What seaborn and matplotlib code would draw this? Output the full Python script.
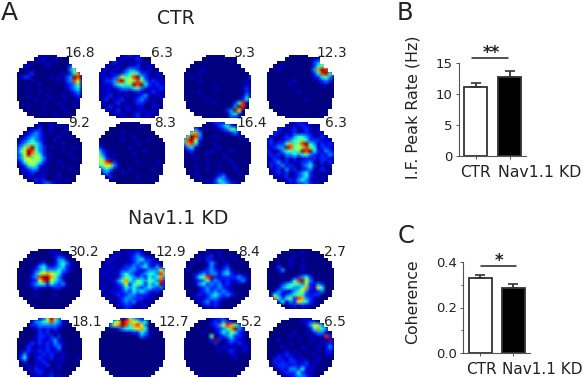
import numpy as np
import pandas as pd
import matplotlib
matplotlib.use("Agg")
import matplotlib.pyplot as plt
from matplotlib.colors import PowerNorm
from matplotlib.patches import Polygon
import seaborn as sns

# Rate maps: 0 = dark blue ... 9 = dark red, "." = outside arena
ctr_1 = ["......001100......", "....0011001000....", "..00100101000002..", ".0110000100000240.",
         ".0000000000000351.", "000120000000102470", "012200000101023980", "000010000001023860",
         "000000100000012350", "000100000000012340", "000000100000001230", "000100001000100120",
         "000001000100010011", ".0000001000100010.", ".0010000000010000.", "..00000100000100..",
         "...0000000100000..", ".....0000000000..."]
ctr_2 = ["......012110......", "....1011012100....", "..01201010110010..", ".1010100112011000.",
         ".1101102332101000.", "110110234542210110", "011123645894210100", "012238956585312110",
         "011134545989421211", "101112333453211121", "011101110121012110", "101201011012310101",
         "012011200123201010", ".1001201012210100.", ".0120101101100110.", "..10120110111010..",
         "...1011001201101..", ".....0110120110..."]
ctr_3 = ["......000000......", "....0000000000....", "..00000000000000..", ".0000000000000000.",
         ".0000100000000000.", "000010000000000001", "001000000000000002", "000010000000000010",
         "000000000000000010", "000000001000000120", "000010000000000020", "000000000000000130",
         "000000100000000240", ".0000000100002480.", ".0000000000003980.", "..00000000023960..",
         "...0000000003420..", ".....0000000210..."]
ctr_4 = ["......000000......", "....0000000011....", "..00000000002341..", ".0001000000024562.",
         ".0010000000037982.", "000000000000248952", "000000000000124531", "000000010000012320",
         "000000100000001100", "000000000000000000", "000000001000000000", "000000000000000000",
         "000000000010000000", ".0000000000000000.", ".0000000000000000.", "..00000000000000..",
         "...0000000000000..", ".....0000000000..."]
ctr_5 = ["......000100......", "....0010010100....", "..00112001000100..", ".0012321010010000.",
         ".0123321000100100.", "012343210010000001", "023454310000100000", "235794320100000100",
         "246985320000100000", "236975420100001000", "235646531000000100", "124665421001000000",
         "012454210000100000", ".0123310100000100.", ".0112101000100000.", "..01101100010000..",
         "...0021200010100..", ".....0123210000..."]
ctr_6 = ["......000000......", "....0000000100....", "..00000000000000..", ".0000010000000000.",
         ".0000000010000000.", "000000100000010000", "100000000010000000", "210000001000000000",
         "421000000000100000", "531010000100000000", "642100000000000000", "568920000010000100",
         "456631000000000000", ".3431000100000100.", ".2310010000000000.", "..12000000100000..",
         "...0000000000000..", ".....0000000000..."]
ctr_7 = ["......012211......", "....0000123420....", "..13100001235410..", ".3573000000123100.",
         ".5983000100000100.", "489620000000000010", "378410001000000000", "134100000100000000",
         "012000010000100000", "001000100010000000", "000100000001000000", "000000100000100000",
         "000100000100010000", ".0000010000001000.", ".0010000011000100.", "..00100012310000..",
         "...0001024320100..", ".....0012343210..."]
ctr_8 = ["......012110......", "....1101121100....", "..12101201210110..", ".1210112112101100.",
         ".1101213443210210.", "120112345542221110", "121224745894312120", "112339856585412211",
         "210134545989421321", "121213343453212132", "012102120121212210", "112312011223102121",
         "021231210234201010", ".1120312012310210.", ".0121201234201010.", "..10120123421010..",
         "...1012134310101..", ".....0112232110..."]

kd_1 = ["......000100......", "....0000011000....", "...000000012100...", "..00000000133100..",
        ".0000012001343100.", ".0000134212342100.", "000012343334321000", "000013567654210000",
        "000023899753100000", "000012689643200000", "000123442432310000", "000012110122100000",
        ".0000000000000000.", ".0000100001000000.", "..00000000000000..", "...000000000000...",
        "....0000000000....", ".....00000000....."]
kd_2 = ["......011100......", "....0110112100....", "...011011232100...", "..01101012342210..",
        ".0110101123232110.", ".1011012232342131.", "101101223321233363", "011011343212344385",
        "101101354323243473", "010113574354354382", "101012362454243492", "011011243432343231",
        ".1011123243432120.", ".0101212332221100.", "..01012332221100..", "...101232311010...",
        "....0112210110....", ".....01211010....."]
kd_3 = ["......001000......", "....0010010000....", "...010120100100...", "..00102100100100..",
        ".0100013200100000.", ".0000013101200000.", "010001232123100000", "000123233134211000",
        "000245892122223210", "000123523212112310", "000134232312101000", "000012322321100000",
        ".0001232323210000.", ".0012123432321000.", "..01012332110000..", "...012312100000...",
        "....0121210000....", ".....00010000....."]
kd_4 = ["......000000......", "....0000010000....", "...000010000000...", "..00001001000000..",
        ".0000010000000000.", ".0020010010000000.", "000130000100000000", "000010000010000000",
        "000000012342000000", "000000148963100000", "000023454352132000", "000134433572164000",
        ".0132113463112300.", ".1431234542122000.", "..74245287321000..", "...241326542100...",
        "....0012121100....", ".....00000000....."]
kd_5 = ["......126973......", "....1334584310....", "...022333332100...", "..00012121210000..",
        ".0000021201000000.", ".0000122120200000.", "000001211231000000", "000121212132100000",
        "000210112123100000", "001211212112000000", "013101121210100000", "024101211201100010",
        ".0200112101010000.", ".0010111200100000.", "..01021101010000..", "...011210100000...",
        "....0110120100....", ".....01012000....."]
kd_6 = ["......115321......", "....4698765340....", "...367984786300...", "..00123445674000..",
        ".0000001122431000.", ".0000000001321000.", "000000000000000000", "000000000000000000",
        "000000000000000000", "000000000000000000", "000000000000000000", "000000000000000000",
        ".0000000000000000.", ".0000000000000000.", "..00000000000000..", "...000000000000...",
        "....0000000000....", ".....00000000....."]
kd_7 = ["......001220......", "....0001213210....", "...000012368753...", "..00000012347932..",
        ".0000100124354210.", ".0000005012342210.", "000000029201321100", "000000002001212100",
        "000000000011010110", "000000000101210110", "000000000000110000", "000000000000010000",
        ".0000000000000000.", ".0000000000000000.", "..00000000000000..", "...000000000000...",
        "....0000000000....", ".....00000000....."]
kd_8 = ["......000110......", "....0000011220....", "...000000013653...", "..00000000014743..",
        ".0000001001023310.", ".0000010000101182.", "000100001000100191", "000000100001001121",
        "000010000100010131", "000001010010010120", "000112101000100110", "001211210100010000",
        ".0212122112011000.", ".0122212122100000.", "..01213324111000..", "...012224211000...",
        "....0112332100....", ".....01122100....."]

# arena shape per group, the CTR one has its upper right corner cut
ctr_arena = ["......#####.......", ".....#########....", "...###########....", "..#############...",
             ".###############..", "#################.", "##################", "##################",
             "##################", "##################", "##################", "##################",
             "#################.", ".################.", ".################.", "..##############..",
             "...#############..", ".....##########..."]
kd_arena = ["......######......", "....##########....", "...############...", "..##############..",
            ".################.", ".################.", "##################", "##################",
            "##################", "##################", "##################", "##################",
            ".################.", ".################.", "..##############..", "...############...",
            "....##########....", ".....########....."]

ctr_maps = [ctr_1, ctr_2, ctr_3, ctr_4, ctr_5, ctr_6, ctr_7, ctr_8]
kd_maps = [kd_1, kd_2, kd_3, kd_4, kd_5, kd_6, kd_7, kd_8]
ctr_rates = ["16.8", "6.3", "9.3", "12.3", "9.2", "8.3", "16.4", "6.3"]
kd_rates = ["30.2", "12.9", "8.4", "2.7", "18.1", "12.7", "5.2", "6.5"]

groups = ["CTR", "Nav1.1 KD"]
peak_rate = [11.2, 12.8]
peak_rate_sem = [0.5, 0.85]
coherence = [0.331, 0.286]
coherence_sem = [0.014, 0.017]

W, H = 583, 377
INK = "#222222"

sns.set_style("white")
plt.rcParams["font.family"] = ["DejaVu Sans"]

fig = plt.figure(figsize=(W / 100, H / 100), dpi=100)


def px_axes(x0, y0, x1, y1):
    # axes from pixel box, y counted from the top
    return fig.add_axes([x0 / W, 1 - y1 / H, (x1 - x0) / W, (y1 - y0) / H])


def px_text(x, y, s, size, **kw):
    kw.setdefault("ha", "center")
    kw.setdefault("va", "center")
    fig.text(x / W, 1 - y / H, s, fontsize=size, color=kw.pop("color", INK), **kw)


def rate_map(rows, arena, box):
    grid = np.array([[0 if c == "." else int(c) for c in r] for r in rows], dtype=float)
    ax = px_axes(*box)
    sns.heatmap(grid, ax=ax, cmap="jet", norm=PowerNorm(1.2, vmin=0, vmax=9), cbar=False,
                xticklabels=False, yticklabels=False, shading="gouraud")
    ax.set_xlim(0, 17)
    ax.set_ylim(17, 0)
    ax.axis("off")
    # stepped outline, row by row
    left, right = [], []
    for i, r in enumerate(arena):
        first = r.index("#")
        last = r.rindex("#")
        left += [(first - 0.5, i - 0.5), (first - 0.5, i + 0.5)]
        right += [(last + 0.5, i - 0.5), (last + 0.5, i + 0.5)]
    outline = Polygon(left + right[::-1], closed=True, transform=ax.transData)
    ax.collections[0].set_clip_path(outline)


col_x = [(17, 82), (99, 165), (184, 251), (267, 334)]
ctr_y = [(55, 118), (122, 184)]
kd_y = [(249, 309), (318, 380)]

for i, rows in enumerate(ctr_maps):
    x0, x1 = col_x[i % 4]
    y0, y1 = ctr_y[i // 4]
    rate_map(rows, ctr_arena, (x0, y0, x1, y1))
for i, rows in enumerate(kd_maps):
    x0, x1 = col_x[i % 4]
    y0, y1 = kd_y[i // 4]
    rate_map(rows, kd_arena, (x0, y0, x1, y1))

ctr_label_x = [80, 162, 244, 332, 79, 165, 252, 336]
ctr_label_y = [53, 53, 53, 53, 123, 123, 123, 123]
kd_label_x = [84, 171, 249, 335, 87, 174, 252, 335]
kd_label_y = [252, 252, 252, 252, 322, 322, 322, 322]
for x, y, s in zip(ctr_label_x, ctr_label_y, ctr_rates):
    px_text(x, y, s, 9.9)
for x, y, s in zip(kd_label_x, kd_label_y, kd_rates):
    px_text(x, y, s, 9.9)

px_text(176, 18, "CTR", 13.5)
px_text(178, 218, "Nav1.1 KD", 13.7)
px_text(9, 13, "A", 18)
px_text(405, 13, "B", 17.5)
px_text(406, 236, "C", 17.5)


def bar_panel(box, values, sem, ylim, yticks, xlim):
    ax = px_axes(*box)
    data = pd.DataFrame({"group": groups, "value": values})
    sns.barplot(data=data, x="group", y="value", hue="group", palette=["white", "black"],
                edgecolor="#333333", linewidth=1.3, width=0.68, legend=False, ax=ax)
    ax.errorbar([0, 1], values, yerr=[[0, 0], sem], fmt="none", ecolor="#333333",
                elinewidth=1.3, capsize=3.5, capthick=1.2)
    ax.set_ylim(*ylim)
    ax.set_xlim(*xlim)
    ax.set_yticks(yticks)
    ax.set_xlabel("")
    ax.set_ylabel("")
    ax.tick_params(left=True, bottom=True, length=2.5, width=0.7, color="#555555",
                   labelsize=9.5, labelcolor=INK, pad=2)
    ax.set_xticklabels([])
    sns.despine(ax=ax)
    ax.spines["left"].set_color("#555555")
    ax.spines["bottom"].set_color("#555555")
    ax.spines["left"].set_linewidth(0.8)
    ax.spines["bottom"].set_linewidth(0.8)
    return ax


ax_b = bar_panel((459, 63, 526, 156), peak_rate, peak_rate_sem, (0, 15), [0, 5, 10, 15], (-0.485, 1.48))
ax_c = bar_panel((463, 262, 530, 353), coherence, coherence_sem, (0, 0.4), [0, 0.2, 0.4], (-0.52, 1.5))
ax_c.set_yticks([0.1, 0.3], minor=True)
ax_c.tick_params(which="minor", left=True, length=1.5, width=0.7, color="#555555")
ax_c.set_yticklabels(["0.0", "0.2", "0.4"])

fig.add_artist(plt.Line2D([472 / W, 508 / W], [1 - 58 / H] * 2, color="#222222", lw=1.1))
fig.add_artist(plt.Line2D([481 / W, 516 / W], [1 - 266 / H] * 2, color="#222222", lw=1.1))
px_text(491, 53, "**", 12, weight="bold")
px_text(499, 261, "*", 12, weight="bold")

px_text(475, 172, "CTR", 11)
px_text(540, 172, "Nav1.1 KD", 11.3)
px_text(481, 369, "CTR", 11)
px_text(542, 369, "Nav1.1 KD", 11)

px_text(413, 107, "I.F. Peak Rate (Hz)", 11.4, rotation=90)
px_text(413, 302, "Coherence", 11.3, rotation=90)

fig.savefig("out.png", dpi=100)
